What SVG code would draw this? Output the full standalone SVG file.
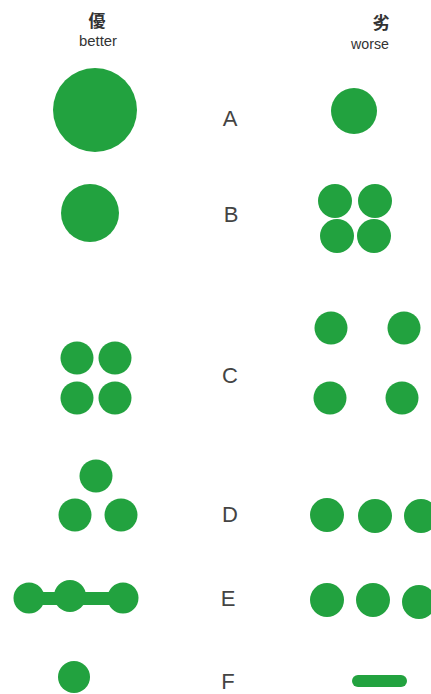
<svg xmlns="http://www.w3.org/2000/svg" width="431" height="694" viewBox="0 0 431 694">
<style>
.g{fill:#22a23f}
.lt{font-family:"Liberation Sans","Noto Sans CJK JP",sans-serif;fill:#444;font-size:22px;text-anchor:middle}
.hd{font-family:"Liberation Sans","Noto Sans CJK JP",sans-serif;fill:#333;text-anchor:middle}
</style>
<rect width="431" height="694" fill="#fff"/>
<g id="header-better">
<text class="hd" x="97" y="27" font-size="17" font-weight="bold">優</text>
<text class="hd" x="98" y="46" font-size="15" textLength="38" lengthAdjust="spacingAndGlyphs">better</text>
</g>
<g id="header-worse">
<text class="hd" x="381" y="29" font-size="17" font-weight="bold">劣</text>
<text class="hd" x="370" y="49" font-size="15" textLength="38" lengthAdjust="spacingAndGlyphs">worse</text>
</g>
<g id="row-A">
<circle class="g" cx="95" cy="110" r="42"/>
<text class="lt" x="230" y="126">A</text>
<circle class="g" cx="354" cy="111" r="23"/>
</g>
<g id="row-B">
<circle class="g" cx="90" cy="213" r="29"/>
<text class="lt" x="231" y="222">B</text>
<circle class="g" cx="335" cy="201" r="17"/>
<circle class="g" cx="375" cy="201" r="17"/>
<circle class="g" cx="337" cy="236" r="17"/>
<circle class="g" cx="374" cy="236" r="17"/>
</g>
<g id="row-C">
<circle class="g" cx="77" cy="358" r="16.5"/>
<circle class="g" cx="115" cy="358" r="16.5"/>
<circle class="g" cx="77" cy="398" r="16.5"/>
<circle class="g" cx="115" cy="398" r="16.5"/>
<text class="lt" x="230" y="383">C</text>
<circle class="g" cx="331" cy="328" r="16.5"/>
<circle class="g" cx="404" cy="328" r="16.5"/>
<circle class="g" cx="330" cy="398" r="16.5"/>
<circle class="g" cx="402" cy="398" r="16.5"/>
</g>
<g id="row-D">
<circle class="g" cx="96" cy="476" r="16.5"/>
<circle class="g" cx="75" cy="515" r="16.5"/>
<circle class="g" cx="121" cy="515" r="16.5"/>
<text class="lt" x="230" y="522">D</text>
<circle class="g" cx="327" cy="515" r="17"/>
<circle class="g" cx="375" cy="516" r="17"/>
<circle class="g" cx="421" cy="516" r="17"/>
</g>
<g id="row-E">
<rect class="g" x="29" y="592" width="94" height="13"/>
<circle class="g" cx="29" cy="598" r="15.5"/>
<circle class="g" cx="70" cy="596" r="16"/>
<circle class="g" cx="123" cy="598" r="15.5"/>
<text class="lt" x="228" y="606">E</text>
<circle class="g" cx="327" cy="600" r="17"/>
<circle class="g" cx="373" cy="600" r="17"/>
<circle class="g" cx="419" cy="602" r="17"/>
</g>
<g id="row-F">
<circle class="g" cx="74" cy="677" r="16"/>
<text class="lt" x="228" y="689" font-size="21">F</text>
<rect class="g" x="352" y="675" width="55" height="12" rx="6"/>
</g>
</svg>
